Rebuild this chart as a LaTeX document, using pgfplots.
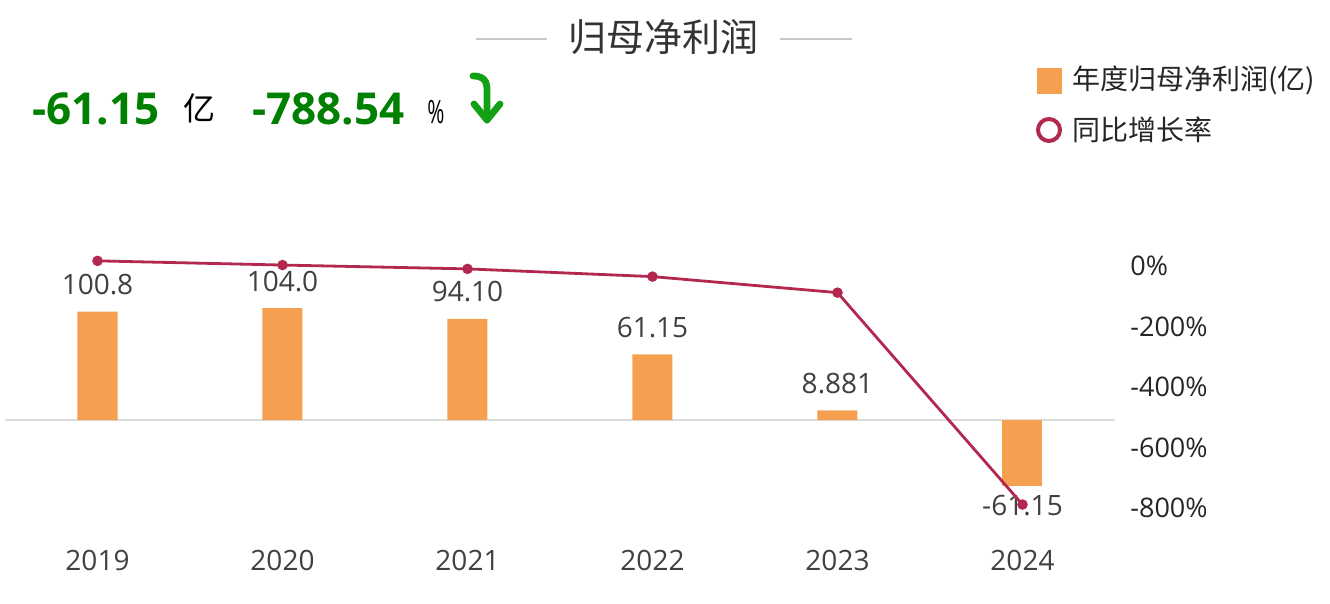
\documentclass[border=0pt]{standalone}
\usepackage{pgfplots}
\pgfplotsset{compat=1.18}
\usepackage{pgfplotstable}
\usepackage{fontspec}
\setmainfont{Open Sans}
\newfontfamily\cjk{Noto Sans CJK SC}
\definecolor{barc}{HTML}{F4A050}
\definecolor{linec}{HTML}{B3284E}
\definecolor{txt}{HTML}{404040}
\definecolor{dgreen}{HTML}{008000}
\definecolor{agreen}{HTML}{14A014}
\definecolor{zline}{HTML}{DCDCDC}
\definecolor{tline}{HTML}{C8C8C8}

\pgfplotstableread{
x val label
0 100.8 100.8
1 104.0 104.0
2 94.10 94.10
3 61.15 61.15
4 8.881 8.881
}\pos

\pgfplotstableread{
x val label
5 -61.15 -61.15
}\negv

\pgfplotstableread{
x g
0 17
1 3.17
2 -9.52
3 -35.02
4 -88
5 -788.54
}\growth

\begin{document}
\begin{tikzpicture}[x=1pt,y=1pt]
\useasboundingbox (0,0) rectangle (665,302);
\begin{axis}[
  at={(2.5pt,37pt)}, anchor=south west,
  scale only axis, width=555pt, height=165pt,
  xmin=-0.5, xmax=5.5, ymin=-102.3, ymax=204.65,
  axis line style={draw=none}, major tick length=0pt,
  xtick={0,1,2,3,4,5},
  xticklabels={2019,2020,2021,2022,2023,2024},
  xticklabel style={anchor=center, yshift=-15pt, font=\fontsize{14}{14}\selectfont, text=txt},
  ytick=\empty,
  clip=false,
]
\draw[zline, line width=1pt] (axis cs:-0.5,0) -- (axis cs:5.5,0);
\addplot[ybar, bar width=20pt, bar shift=0pt, fill=barc, draw=none,
  nodes near coords, point meta=explicit symbolic,
  nodes near coords style={anchor=center, yshift=13.5pt, font=\fontsize{14}{14}\selectfont, text=txt}]
  table[x=x, y=val, meta=label]{\pos};
\addplot[ybar, bar width=20pt, bar shift=0pt, fill=barc, draw=none,
  nodes near coords, point meta=explicit symbolic,
  nodes near coords style={anchor=center, yshift=-10pt, font=\fontsize{14}{14}\selectfont, text=txt}]
  table[x=x, y=val, meta=label]{\negv};
\end{axis}
\begin{axis}[
  at={(2.5pt,37pt)}, anchor=south west,
  scale only axis, width=555pt, height=165pt,
  xmin=-0.5, xmax=5.5, ymin=-872.7, ymax=218.2,
  axis line style={draw=none}, major tick length=0pt,
  xtick=\empty,
  axis y line*=right,
  ytick={0,-200,-400,-600,-800},
  yticklabels={0\%,-200\%,-400\%,-600\%,-800\%},
  yticklabel style={anchor=west, inner sep=0pt, xshift=7.5pt, font=\fontsize{13.5}{13.5}\selectfont, text=black!85},
  clip=false,
]
\addplot[linec, line width=1.4pt, mark=*, mark size=1.9pt, mark options={fill=linec, draw=linec}]
  table[x=x, y=g]{\growth};
\end{axis}
% title
\node[anchor=center, inner sep=0pt, text=black!80] at (331.75,283.5) {\cjk\fontsize{19}{19}\selectfont 归母净利润};
\draw[tline, line width=1pt] (238,282.5) -- (273.5,282.5);
\draw[tline, line width=1pt] (390,282.5) -- (426,282.5);
% headline numbers
\node[anchor=west, inner sep=0pt, text=dgreen] at (16,247.75) {\fontsize{22}{22}\selectfont\bfseries -61.15};
\node[anchor=west, inner sep=0pt, text=black] at (91.5,248) {\cjk\fontsize{16}{16}\selectfont 亿};
\node[anchor=west, inner sep=0pt, text=dgreen] at (126,247.75) {\fontsize{22}{22}\selectfont\bfseries -788.54};
\node[anchor=west, inner sep=0pt, text=black] at (213.5,246) {\scalebox{0.65}[1]{\fontsize{16}{16}\selectfont\%}};
\draw[agreen, line width=3.4pt, line cap=round, line join=round]
  (236.5,264) .. controls (244,264) and (243.5,259) .. (243.5,255) -- (243.5,242);
\draw[agreen, line width=3.4pt, line cap=round, line join=round]
  (237,250) -- (243.5,242) -- (250,250);
% legend
\fill[barc] (518.5,255) rectangle (531,268);
\node[anchor=west, inner sep=0pt, text=black!85] at (536,262) {\cjk\fontsize{14}{14}\selectfont 年度归母净利润(亿)};
\draw[linec, line width=2pt] (524.5,237) circle (5.5pt);
\node[anchor=west, inner sep=0pt, text=black!85] at (536,237) {\cjk\fontsize{14}{14}\selectfont 同比增长率};
\end{tikzpicture}
\end{document}
